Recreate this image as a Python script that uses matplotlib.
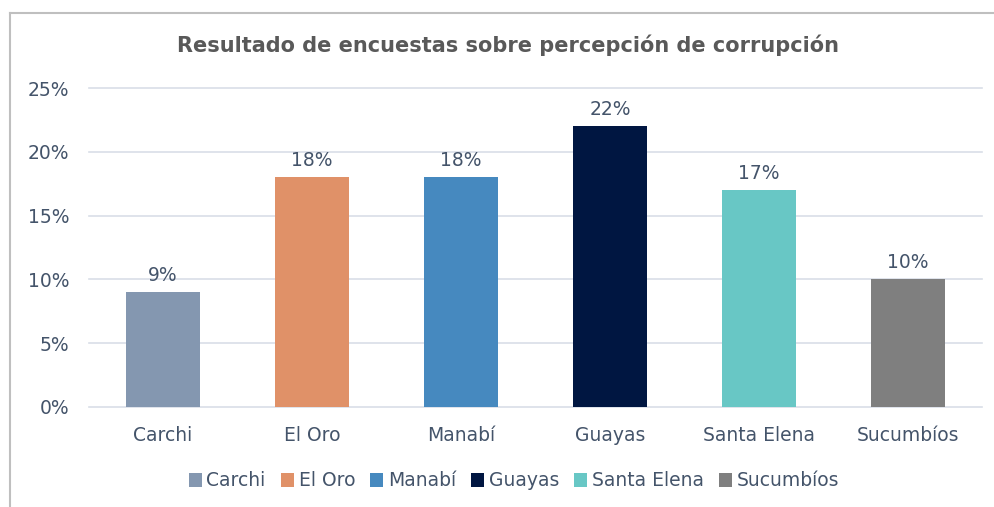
import matplotlib.pyplot as plt
from matplotlib.lines import Line2D
from matplotlib.patches import Patch

# data
provincias = ["Carchi", "El Oro", "Manabí", "Guayas", "Santa Elena", "Sucumbíos"]
porcentajes = [9, 18, 18, 22, 17, 10]
colores = ["#8497B0", "#E09168", "#4689BF", "#001641", "#68C7C5", "#7F7F7F"]
yticks = [0, 5, 10, 15, 20, 25]

txt = "#44546A"
plt.rcParams["font.family"] = ["DejaVu Sans"]

fig = plt.figure(figsize=(9.95, 5.07), dpi=100)
ax = fig.add_axes([88.5 / 995, 1 - 407 / 507, 894 / 995, 319 / 507])

x = range(len(provincias))
bars = ax.bar(x, porcentajes, width=0.5, color=colores, zorder=3)

for i, v in enumerate(porcentajes):
    ax.text(i, v + 0.55, f"{v}%", ha="center", va="bottom", fontsize=13.5, color=txt)

ax.set_xlim(-0.5, len(provincias) - 0.5)
ax.set_ylim(0, 25)
ax.set_yticks(yticks)
ax.set_yticklabels([f"{t}%" for t in yticks], fontsize=13.5, color=txt)
ax.set_xticks(list(x))
ax.set_xticklabels(provincias, fontsize=13.5, color=txt)
ax.tick_params(length=0, pad=14)
ax.tick_params(axis="y", pad=14)
ax.grid(axis="y", color="#D9DEE8", linewidth=1.2, zorder=0)
for gl in ax.get_ygridlines():
    gl.set_clip_on(False)
for s in ax.spines.values():
    s.set_visible(False)

fig.text(508 / 995, 1 - 45 / 507, "Resultado de encuestas sobre percepción de corrupción",
         ha="center", va="center", fontsize=15, fontweight="bold", color="#595959")

handles = [Patch(facecolor=c, edgecolor="none") for c in colores]
fig.legend(handles, provincias, loc="center", bbox_to_anchor=(514 / 995, 1 - 481 / 507),
           ncol=6, frameon=False, fontsize=13.5, labelcolor=txt,
           handlelength=0.7, handleheight=0.7, handletextpad=0.25, columnspacing=0.8)

# chart border (top and left visible in the crop)
fig.add_artist(Line2D([10 / 995, 1.0], [1 - 12.5 / 507, 1 - 12.5 / 507],
                      transform=fig.transFigure, color="#BFBFBF", linewidth=1.5))
fig.add_artist(Line2D([10 / 995, 10 / 995], [0, 1 - 12.5 / 507],
                      transform=fig.transFigure, color="#BFBFBF", linewidth=1.5))

fig.savefig("out.png", dpi=100)
